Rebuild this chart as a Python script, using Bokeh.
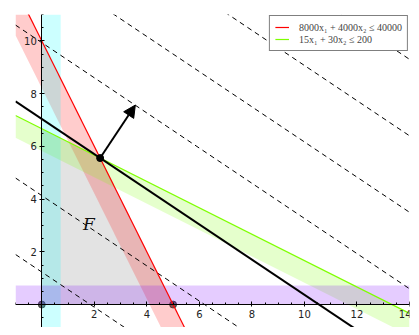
import numpy as np
from bokeh.plotting import figure
from bokeh.models import (LinearAxis, FixedTicker, Arrow, NormalHead, Label,
                          Legend, LegendItem, Range1d)
from bokeh.embed import file_html
from bokeh.resources import INLINE

# ---- data -------------------------------------------------------------
# constraints  a1*x1 + a2*x2 <= b
con_a1 = [8000.0, 15.0]
con_a2 = [4000.0, 30.0]
con_b = [40000.0, 200.0]
con_labels = ["8000x₁ + 4000x₂ ≤ 40000", "15x₁ + 30x₂ ≤ 200"]
con_colors = ["#ff0000", "#7fff00"]
band_widths = [0.8, 0.75]          # shaded band widths (data units, perpendicular)
nonneg_band = 0.72                 # width of x1>=0 / x2>=0 bands
obj_c = [2.0, 3.0]                 # objective direction
level_values = [-5.0, 3.7, 12.4, 29.8, 38.5, 47.2, 55.9]   # dashed level lines
arrow_scale = 0.67
x_ticks = [2, 4, 6, 8, 10, 12, 14]
y_ticks = [2, 4, 6, 8, 10]
x_lim = (-1.0, 14.0)
y_lim = (-1.0, 11.0)
region_label = "F"


def clip(poly, a, b, c):
    """keep part of polygon with a*x + b*y <= c"""
    out = []
    n = len(poly)
    for i in range(n):
        p1 = poly[i]
        p2 = poly[(i + 1) % n]
        v1 = a * p1[0] + b * p1[1] - c
        v2 = a * p2[0] + b * p2[1] - c
        if v1 <= 0:
            out.append(p1)
        if (v1 < 0 < v2) or (v2 < 0 < v1):
            t = v1 / (v1 - v2)
            out.append((p1[0] + t * (p2[0] - p1[0]), p1[1] + t * (p2[1] - p1[1])))
    return out


box = [(x_lim[0], y_lim[0]), (x_lim[1], y_lim[0]), (x_lim[1], y_lim[1]), (x_lim[0], y_lim[1])]

p = figure(width=411, height=327, x_range=Range1d(*x_lim), y_range=Range1d(-0.87, 11.0),
           output_backend="svg", toolbar_location=None,
           x_axis_location=None, y_axis_location=None,
           min_border_left=15, min_border_right=2, min_border_top=14, min_border_bottom=0)
p.outline_line_color = None
p.xgrid.visible = False
p.ygrid.visible = False
p.background_fill_color = "white"

# feasible region
feas = clip(box, -1, 0, 0)
feas = clip(feas, 0, -1, 0)
for a1, a2, b in zip(con_a1, con_a2, con_b):
    feas = clip(feas, a1, a2, b)
p.patch([q[0] for q in feas], [q[1] for q in feas], fill_color="#e3e3e3", line_color=None)

# vertex dots
verts = [(0, 0), (con_b[0] / con_a1[0], 0)]
p.scatter([v[0] for v in verts], [v[1] for v in verts], size=7, color="#222222", alpha=0.7)

# constraint bands
for a1, a2, b, col, w in zip(con_a1, con_a2, con_b, con_colors, band_widths):
    nrm = np.hypot(a1, a2)
    poly = clip(box, a1, a2, b)
    poly = clip(poly, -a1, -a2, -(b - w * nrm))
    p.patch([q[0] for q in poly], [q[1] for q in poly], fill_color=col, fill_alpha=0.2, line_color=None)

# non-negativity bands
poly = clip(box, -1, 0, 0)
poly = clip(poly, 1, 0, nonneg_band)
p.patch([q[0] for q in poly], [q[1] for q in poly], fill_color="#00ffff", fill_alpha=0.2, line_color=None)
poly = clip(box, 0, -1, 0)
poly = clip(poly, 0, 1, nonneg_band)
p.patch([q[0] for q in poly], [q[1] for q in poly], fill_color="#7f00ff", fill_alpha=0.2, line_color=None)

# dashed level lines
xs_line = np.array([x_lim[0], x_lim[1]])
for k in level_values:
    p.line(xs_line, (k - obj_c[0] * xs_line) / obj_c[1], line_color="black",
           line_dash="5 4", line_width=1)

# constraint lines
legend_items = []
for a1, a2, b, col, lab in zip(con_a1, con_a2, con_b, con_colors, con_labels):
    ys = (b - a1 * xs_line) / a2
    r = p.line(xs_line, ys, line_color=col, line_width=1.2)
    legend_items.append(LegendItem(label=lab, renderers=[r]))

# optimum
A = np.array([[con_a1[0], con_a2[0]], [con_a1[1], con_a2[1]]])
opt = np.linalg.solve(A, np.array(con_b))
k_opt = obj_c[0] * opt[0] + obj_c[1] * opt[1]
p.line(xs_line, (k_opt - obj_c[0] * xs_line) / obj_c[1], line_color="black", line_width=2)

p.add_layout(Arrow(end=NormalHead(size=12, fill_color="black", line_color="black"),
                   x_start=opt[0], y_start=opt[1],
                   x_end=opt[0] + arrow_scale * obj_c[0], y_end=opt[1] + arrow_scale * obj_c[1],
                   line_width=2, line_color="black"))
p.scatter([opt[0]], [opt[1]], size=7, color="black")

p.add_layout(Label(x=1.79, y=3.07, text=region_label, text_font="DejaVu Serif",
                   text_font_style="italic", text_font_size="17px", text_color="#111111",
                   text_align="center", text_baseline="middle"))

# axes through origin
minor = list(np.arange(-1.0, 14.01, 0.5))
xaxis = LinearAxis(fixed_location=0, ticker=FixedTicker(ticks=x_ticks, minor_ticks=minor))
yaxis = LinearAxis(fixed_location=0, ticker=FixedTicker(ticks=y_ticks, minor_ticks=list(np.arange(-1.0, 11.01, 0.5))))
for ax in (xaxis, yaxis):
    ax.axis_line_color = "black"
    ax.major_tick_in = 3
    ax.major_tick_out = 2
    ax.minor_tick_in = 2
    ax.minor_tick_out = 0
    ax.major_label_text_font = "DejaVu Sans"
    ax.major_label_text_font_size = "10px"
    ax.major_label_text_color = "#222222"
    ax.major_label_standoff = 3
p.add_layout(xaxis, "below")
p.add_layout(yaxis, "left")

legend = Legend(items=legend_items, location="top_right", margin=1, padding=5, spacing=0,
                border_line_color="black", border_line_width=1, background_fill_alpha=1,
                label_text_font="Liberation Serif", label_text_font_size="10px",
                glyph_width=14, glyph_height=12, label_height=12, label_standoff=10)
p.add_layout(legend, "center")

open("out.html", "w").write(file_html(p, INLINE))
